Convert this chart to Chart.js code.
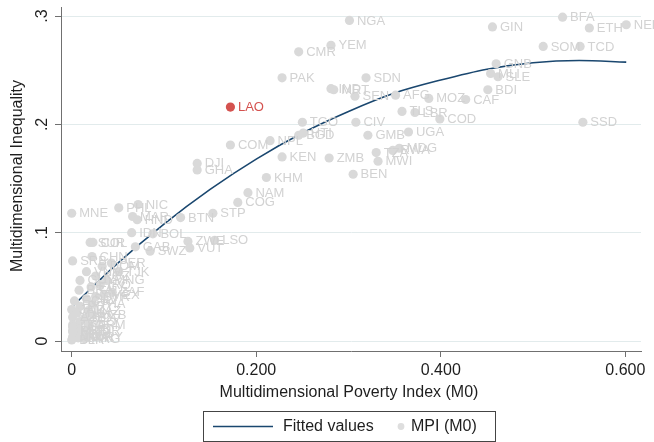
<!DOCTYPE html>
<html>
<head>
<meta charset="utf-8">
<script src="https://cdn.jsdelivr.net/npm/chart.js@4.4.1/dist/chart.umd.min.js"></script>
<style>
  html, body { margin: 0; padding: 0; background: #fff; }
</style>
</head>
<body>
<canvas id="chart" width="654" height="442"></canvas>
<script>
// country codes, MPI (M0) and inequality among the poor
const countries = [
  'NGA','YEM','CMR','PAK','SDN','IND','MRT','SEN','AFG','MOZ','TLS','LBR','CAF','COD','BDI',
  'MLI','SLE','GNB','GIN','BFA','ETH','NER','SOM','TCD','SSD','TGO','CIV','UGA','GMB','BGD',
  'HTI','NPL','COM','KEN','ZMB','TZA','RWA','MDG','MWI','BEN','DJI','GHA','KHM','NAM','COG',
  'STP','MNE','PHL','NIC','MAR','HND','BTN','IDN','BOL','ZWE','LSO','VUT','SWZ','GAB','SUR',
  'COL','SRB','CHN','PER','DOM','VNM','TJK','KGZ','MNG','GUY','IRQ','EGY','ZAF','BRA','MEX',
  'SYR','SLV','ECU','THA','PRY','JAM','KAZ','TUN','MDV','AZE','UZB','GEO','TTO','ARM','ALB',
  'MKD','TUR','JOR','BIH','MDA','UKR','BLR','URY','PSE','LCA','ARG','LAO'
];
const mpi = [
  0.301,0.281,0.246,0.228,0.319,0.281,0.284,0.307,0.351,0.387,0.358,0.372,0.427,0.399,0.451,
  0.454,0.462,0.460,0.456,0.532,0.561,0.601,0.511,0.551,0.554,0.250,0.308,0.365,0.321,0.246,
  0.251,0.215,0.172,0.228,0.279,0.330,0.348,0.355,0.332,0.305,0.136,0.136,0.211,0.191,0.180,
  0.153,0.000,0.051,0.072,0.066,0.071,0.118,0.065,0.088,0.126,0.155,0.128,0.085,0.069,0.020,
  0.023,0.001,0.022,0.043,0.033,0.016,0.051,0.026,0.038,0.009,0.031,0.021,0.044,0.008,0.035,
  0.026,0.016,0.003,0.022,0.009,0.000,0.018,0.006,0.014,0.001,0.023,0.009,0.001,0.019,0.007,
  0.001,0.016,0.003,0.011,0.001,0.007,0.000,0.018,0.001,0.001,0.014,0.172
];
const inequality = [
  0.296,0.273,0.267,0.243,0.243,0.233,0.232,0.226,0.227,0.224,0.212,0.211,0.223,0.205,0.232,
  0.247,0.244,0.256,0.290,0.299,0.289,0.292,0.272,0.272,0.202,0.202,0.202,0.193,0.190,0.190,
  0.192,0.185,0.181,0.170,0.169,0.174,0.176,0.178,0.166,0.154,0.164,0.158,0.151,0.137,0.128,
  0.118,0.118,0.123,0.126,0.115,0.112,0.114,0.100,0.099,0.092,0.093,0.086,0.083,0.087,0.091,
  0.091,0.074,0.078,0.072,0.069,0.064,0.064,0.060,0.056,0.056,0.052,0.050,0.045,0.047,0.043,
  0.041,0.039,0.037,0.034,0.032,0.029,0.028,0.026,0.021,0.022,0.024,0.018,0.015,0.015,0.011,
  0.009,0.009,0.006,0.007,0.004,0.003,0.001,0.004,0.009,0.013,0.002,0.216
];
const highlight = 'LAO';

// fitted values curve
const fitX = [0.002, 0.05, 0.10, 0.15, 0.20, 0.25, 0.30, 0.35, 0.40, 0.45, 0.50, 0.55, 0.601];
const fitY = [0.033, 0.072, 0.108, 0.140, 0.168, 0.192, 0.212, 0.229, 0.241, 0.251, 0.257, 0.259, 0.2575];

const xTicks = [0, 0.2, 0.4, 0.6];
const xTickLabels = ['0', '0.200', '0.400', '0.600'];
const yTicks = [0, 0.1, 0.2, 0.3];
const yTickLabels = ['0', '.1', '.2', '.3'];

const FONT = '"Liberation Sans", Arial, sans-serif';
const NAVY = '#1a476f';
const DOT = '#d9d9d9';
const RED = '#d4524f';
const AXIS = '#707070';

const decorations = {
  id: 'decorations',
  afterDatasetsDraw(chart) {
    const ctx = chart.ctx;
    const meta = chart.getDatasetMeta(1);
    ctx.save();
    ctx.font = '13px ' + FONT;
    ctx.textBaseline = 'middle';
    ctx.textAlign = 'left';
    meta.data.forEach((pt, i) => {
      ctx.fillStyle = countries[i] === highlight ? RED : '#d2d2d2';
      ctx.fillText(countries[i], pt.x + 7.5, pt.y + 0.5);
    });
    ctx.restore();
  },
  afterDraw(chart) {
    const ctx = chart.ctx;
    const area = chart.chartArea;
    const ys = chart.scales.y;
    ctx.save();
    ctx.fillStyle = '#1e1e1e';
    ctx.font = '16px ' + FONT;
    ctx.textAlign = 'center';
    ctx.textBaseline = 'middle';

    // y tick labels, turned like the axis title
    yTicks.forEach((v, i) => {
      ctx.save();
      ctx.translate(43, ys.getPixelForValue(v));
      ctx.rotate(-Math.PI / 2);
      ctx.fillText(yTickLabels[i], 0, 0);
      ctx.restore();
    });

    // axis titles
    ctx.fillText('Multidimensional Poverty Index (M0)', 349, 393);
    ctx.save();
    ctx.translate(18, (area.top + area.bottom) / 2 - 3);
    ctx.rotate(-Math.PI / 2);
    ctx.fillText('Multidimensional Inequality', 0, 0);
    ctx.restore();

    // legend
    ctx.strokeStyle = '#444';
    ctx.lineWidth = 1;
    ctx.strokeRect(203.5, 411.5, 292, 30);
    ctx.strokeStyle = NAVY;
    ctx.lineWidth = 1.5;
    ctx.beginPath();
    ctx.moveTo(213, 426.5);
    ctx.lineTo(273, 426.5);
    ctx.stroke();
    ctx.fillStyle = '#dedede';
    ctx.beginPath();
    ctx.arc(401, 426.5, 3.4, 0, Math.PI * 2);
    ctx.fill();
    ctx.fillStyle = '#1e1e1e';
    ctx.textAlign = 'left';
    ctx.fillText('Fitted values', 283, 427);
    ctx.fillText('MPI (M0)', 411, 427);
    ctx.restore();
  }
};

new Chart(document.getElementById('chart').getContext('2d'), {
  type: 'scatter',
  data: {
    datasets: [
      {
        type: 'line',
        label: 'Fitted values',
        data: fitX.map((x, i) => ({ x: x, y: fitY[i] })),
        borderColor: NAVY,
        borderWidth: 1.6,
        pointRadius: 0,
        fill: false,
        cubicInterpolationMode: 'monotone',
        order: 2
      },
      {
        label: 'MPI (M0)',
        data: mpi.map((x, i) => ({ x: x, y: inequality[i] })),
        backgroundColor: countries.map(c => c === highlight ? RED : DOT),
        borderWidth: 0,
        pointRadius: 4.6,
        order: 1
      }
    ]
  },
  options: {
    responsive: false,
    animation: false,
    devicePixelRatio: 1,
    layout: { padding: { top: 7, right: 13, left: 0, bottom: 0 } },
    plugins: { legend: { display: false }, tooltip: { enabled: false } },
    scales: {
      x: {
        type: 'linear',
        min: -0.0116,
        max: 0.617,
        afterBuildTicks: s => { s.ticks = xTicks.map(v => ({ value: v })); },
        afterFit: s => { s.height = 91; },
        border: { color: AXIS, width: 1 },
        grid: { drawOnChartArea: false, tickLength: 6, tickColor: AXIS },
        ticks: {
          autoSkip: false,
          maxRotation: 0,
          padding: 4,
          color: '#1e1e1e',
          font: { family: FONT, size: 16 },
          callback: (v, i) => xTickLabels[i]
        }
      },
      y: {
        type: 'linear',
        min: -0.0092,
        max: 0.3084,
        afterBuildTicks: s => { s.ticks = yTicks.map(v => ({ value: v })); },
        afterFit: s => { s.width = 61; },
        border: { color: AXIS, width: 1 },
        grid: { color: '#e2ebec', lineWidth: 1, tickLength: 6, tickColor: AXIS },
        ticks: { display: false }
      }
    }
  },
  plugins: [decorations]
});
</script>
</body>
</html>
